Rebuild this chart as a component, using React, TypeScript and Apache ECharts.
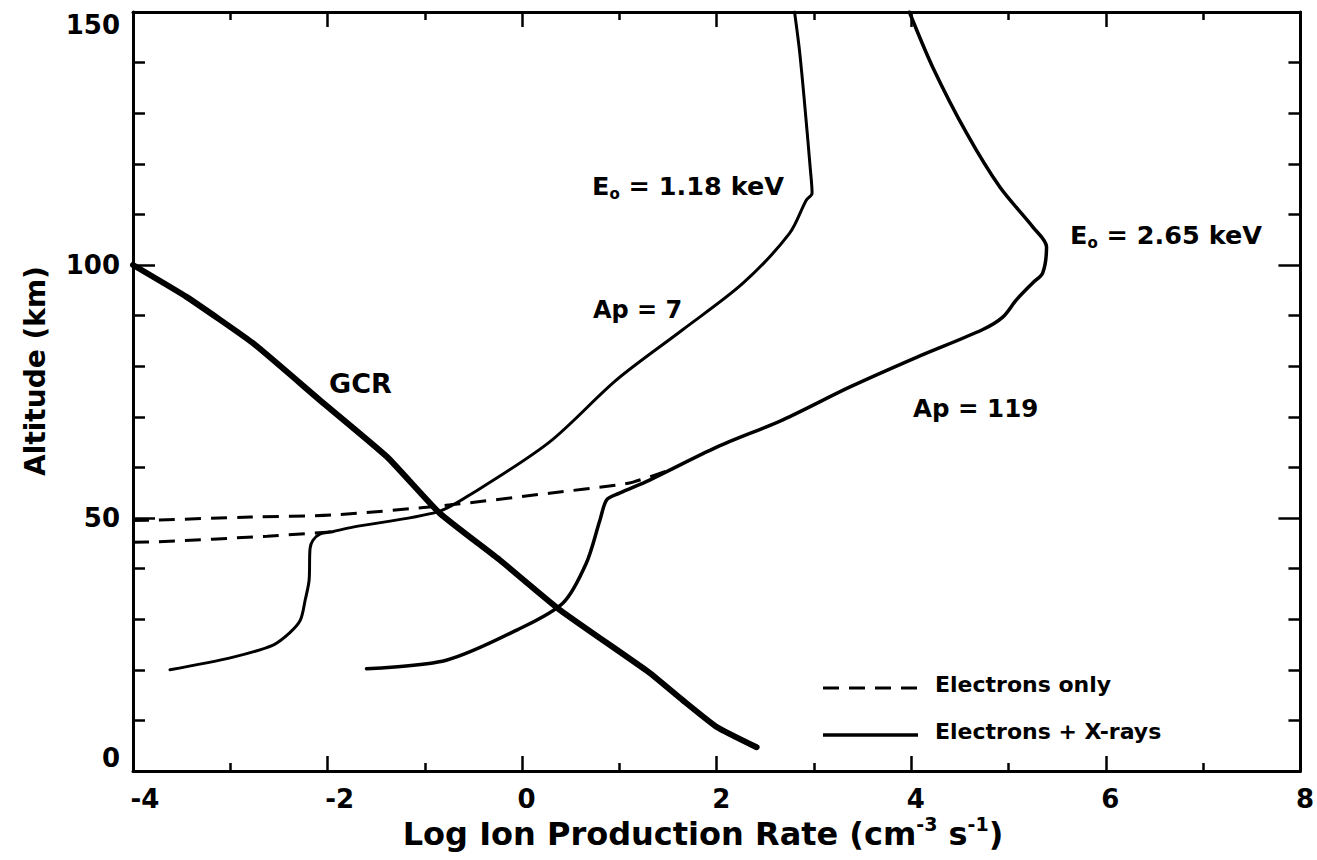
import React, { useEffect, useRef } from "react";
import * as echarts from "echarts";

// Galactic cosmic ray ionisation profile (log rate, altitude km)
const gcr: [number, number][] = [
  [-4.0, 100.0], [-3.45, 93.7], [-2.77, 84.6], [-2.08, 73.3], [-1.39, 62.1],
  [-0.85, 51.0], [-0.23, 41.7], [0.39, 31.8], [1.31, 19.4], [1.65, 14.0],
  [2.0, 8.7], [2.41, 4.7],
];

// Ap = 7, E0 = 1.18 keV: electrons + X-rays
const ap7Total: [number, number][] = [
  [-3.62, 20.0], [-2.97, 22.5], [-2.56, 24.9], [-2.39, 27.3], [-2.28, 29.8],
  [-2.23, 33.8], [-2.19, 37.7], [-2.18, 44.0], [-2.15, 45.6], [-2.08, 46.8],
  [-1.95, 47.3], [-1.74, 48.2], [-0.87, 51.2], [-0.51, 54.9], [0.28, 65.0],
  [0.97, 77.3], [1.65, 87.2], [2.27, 96.4], [2.75, 106.3], [2.92, 112.8],
  [2.98, 114.2], [2.96, 119.4], [2.9, 132.6], [2.85, 142.5], [2.8, 150.0],
];

// Ap = 7: electrons only (below the junction with the total profile)
const ap7Electrons: [number, number][] = [
  [-4.0, 45.2], [-3.75, 45.3], [-2.62, 46.4], [-2.01, 47.2], [-1.95, 47.3],
];

// Ap = 119, E0 = 2.65 keV: electrons + X-rays
const ap119Total: [number, number][] = [
  [-1.6, 20.2], [-0.78, 21.9], [-0.05, 27.9], [0.42, 33.2], [0.66, 41.1],
  [0.8, 49.6], [0.87, 53.6], [1.0, 54.9], [1.31, 57.5],
  [2.0, 64.0], [2.68, 69.4], [3.37, 75.9], [4.06, 81.8], [4.73, 87.2],
  [4.94, 89.7], [5.08, 93.1], [5.25, 96.5], [5.35, 98.4], [5.39, 103.6],
  [5.25, 107.5], [4.91, 115.4], [4.57, 126.0], [4.22, 139.1], [3.98, 150.0],
];

// Ap = 119: electrons only
const ap119Electrons: [number, number][] = [
  [-4.0, 49.5], [-3.75, 49.6], [-2.79, 50.2], [-1.95, 50.6], [-0.74, 52.6],
  [0.28, 54.9], [0.97, 56.5], [1.14, 57.1], [1.55, 59.7],
];

const FONT = "DejaVu Sans";
const BLACK = "#000";

export default function App() {
  const ref = useRef<HTMLDivElement>(null);

  useEffect(() => {
    if (!ref.current) return;
    const chart = echarts.init(ref.current, undefined, { renderer: "svg" });

    const xBase = {
      type: "value" as const,
      min: -4,
      max: 8,
      interval: 2,
      splitLine: { show: false },
      axisLine: { show: true, onZero: false, lineStyle: { color: BLACK, width: 3 } },
      axisTick: { show: true, inside: true, length: 15, lineStyle: { color: BLACK, width: 2.5 } },
      minorTick: { show: true, splitNumber: 2, length: 8, lineStyle: { color: BLACK, width: 2.5 } },
      minorSplitLine: { show: false },
    };
    const yBase = {
      type: "value" as const,
      min: 0,
      max: 150,
      interval: 50,
      splitLine: { show: false },
      axisLine: { show: true, onZero: false, lineStyle: { color: BLACK, width: 3 } },
      axisTick: { show: true, inside: true, length: 22, lineStyle: { color: BLACK, width: 2.5 } },
      minorTick: { show: true, splitNumber: 5, length: 12, lineStyle: { color: BLACK, width: 2.5 } },
      minorSplitLine: { show: false },
    };
    const tickLabel = {
      color: BLACK,
      fontFamily: FONT,
      fontWeight: "bold" as const,
      fontSize: 26,
    };
    const tickRich = {
      p: { ...tickLabel, padding: [0, 0, 0, 9] },
      n: { ...tickLabel, padding: [0, 0, 0, 24] },
    };

    const solid = (name: string, data: [number, number][], width: number, smooth = 0.3) => ({
      name,
      type: "line" as const,
      data,
      showSymbol: false,
      symbol: "none",
      smooth,
      lineStyle: { color: BLACK, width, cap: "round" as const, join: "round" as const },
      z: 3,
    });
    const dashed = (name: string, data: [number, number][]) => ({
      name,
      type: "line" as const,
      data,
      showSymbol: false,
      symbol: "none",
      smooth: 0.3,
      lineStyle: { color: BLACK, width: 3, type: [16, 10] as number[] },
      z: 2,
    });

    const annoStyle = (text: string, size = 24) => ({
      text,
      fill: BLACK,
      fontFamily: FONT,
      fontWeight: "bold",
      fontSize: size,
      align: "left",
      verticalAlign: "middle",
    });
    const energyRich = {
      m: { fontFamily: FONT, fontWeight: "bold", fontSize: 25.5, lineHeight: 30, verticalAlign: "middle", fill: BLACK },
      s: { fontFamily: FONT, fontWeight: "bold", fontSize: 15, lineHeight: 10, verticalAlign: "bottom", fill: BLACK },
    };
    const titleRich = {
      m: { fontFamily: FONT, fontWeight: "bold", fontSize: 32, lineHeight: 40, verticalAlign: "middle", fill: BLACK },
      s: { fontFamily: FONT, fontWeight: "bold", fontSize: 19, lineHeight: 14, verticalAlign: "top", fill: BLACK },
    };
    const legendText = (text: string) => ({
      text,
      fill: BLACK,
      fontFamily: FONT,
      fontWeight: "bold",
      fontSize: 22,
      align: "left",
      verticalAlign: "middle",
    });

    chart.setOption({
      animation: false,
      backgroundColor: "#fff",
      grid: { left: 133, right: 16, top: 12, bottom: 89, containLabel: false },
      xAxis: [
        {
          ...xBase,
          position: "bottom",
          axisLabel: {
            ...tickLabel,
            margin: 15,
            formatter: (v: number) => (v < 0 ? `{n|${v}}` : `{p|${v}}`),
            rich: tickRich,
          },
        },
        { ...xBase, position: "top", axisLabel: { show: false } },
      ],
      yAxis: [
        {
          ...yBase,
          position: "left",
          axisLabel: {
            ...tickLabel,
            margin: 13,
            verticalAlignMinLabel: "bottom",
            verticalAlignMaxLabel: "top",
          },
        },
        { ...yBase, position: "right", axisLabel: { show: false } },
      ],
      series: [
        dashed("Ap 7 electrons only", ap7Electrons),
        dashed("Ap 119 electrons only", ap119Electrons),
        solid("Ap 7 electrons + X-rays", ap7Total, 3),
        solid("Ap 119 electrons + X-rays", ap119Total, 3.5),
        solid("GCR", gcr, 6, 0.15),
      ],
      graphic: [
        {
          type: "text",
          x: 35,
          y: 371,
          rotation: Math.PI / 2,
          style: {
            text: "Altitude (km)",
            fill: BLACK,
            fontFamily: FONT,
            fontWeight: "bold",
            fontSize: 28,
            align: "center",
            verticalAlign: "middle",
          },
        },
        {
          type: "text",
          x: 703,
          y: 834,
          style: {
            text: "{m|Log Ion Production Rate (cm}{s|-3}{m| s}{s|-1}{m|)}",
            rich: titleRich,
            align: "center",
            verticalAlign: "middle",
          },
        },
        {
          type: "text",
          x: 592,
          y: 186,
          style: { text: "{m|E}{s|o}{m| = 1.18 keV}", rich: energyRich, align: "left", verticalAlign: "middle" },
        },
        {
          type: "text",
          x: 1070,
          y: 235,
          style: { text: "{m|E}{s|o}{m| = 2.65 keV}", rich: energyRich, align: "left", verticalAlign: "middle" },
        },
        { type: "text", x: 593, y: 310, style: annoStyle("Ap = 7") },
        { type: "text", x: 913, y: 408, style: annoStyle("Ap = 119", 24.5) },
        { type: "text", x: 329, y: 383, style: annoStyle("GCR", 27) },
        {
          type: "line",
          shape: { x1: 823, y1: 688, x2: 918, y2: 688 },
          style: { stroke: BLACK, lineWidth: 3, lineDash: [16, 10] },
        },
        {
          type: "line",
          shape: { x1: 823, y1: 735, x2: 918, y2: 735 },
          style: { stroke: BLACK, lineWidth: 3.5 },
        },
        { type: "text", x: 935, y: 684, style: legendText("Electrons only") },
        { type: "text", x: 935, y: 731, style: legendText("Electrons + X-rays") },
      ],
    });

    return () => chart.dispose();
  }, []);

  return (
    <div
      ref={ref}
      style={{ position: "fixed", left: 0, top: 0, width: 1317, height: 860, background: "#fff" }}
    />
  );
}
